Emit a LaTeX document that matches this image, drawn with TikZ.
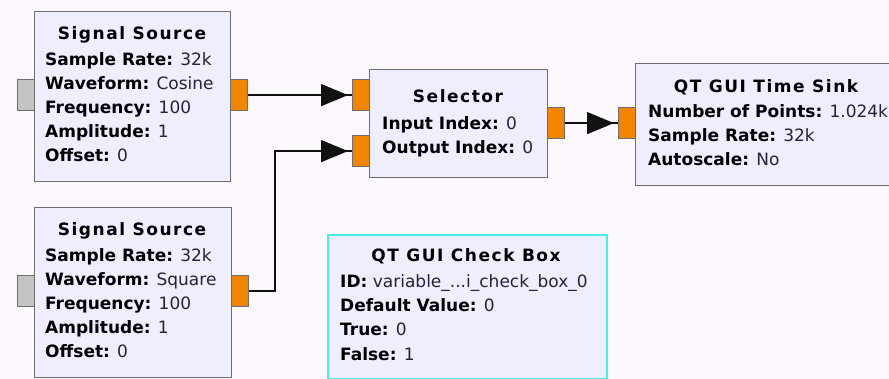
\documentclass[tikz,border=0pt]{standalone}
\usepackage{fontspec}
\setmainfont{DejaVu Sans}
\newfontfamily\titlefont[LetterSpace=9]{DejaVu Sans}
\usetikzlibrary{arrows.meta}
\definecolor{bgc}{HTML}{FDF8FD}
\definecolor{blockfill}{HTML}{EFEEFF}
\definecolor{blockedge}{HTML}{6E6E6E}
\definecolor{portorange}{HTML}{F28500}
\definecolor{portgray}{HTML}{C4C4C4}
\definecolor{selcyan}{HTML}{44EFEF}
\definecolor{valtext}{HTML}{23233A}
\definecolor{wire}{HTML}{111111}
\tikzset{
  block/.style={draw=blockedge, line width=1.4pt, fill=blockfill, anchor=north west, inner sep=0pt},
  portout/.style={draw=blockedge, line width=1.2pt, fill=portorange, anchor=north west, inner sep=0pt, minimum width=17pt, minimum height=31pt},
  portin/.style={draw=blockedge, line width=1.2pt, fill=portgray, anchor=north west, inner sep=0pt, minimum width=17pt, minimum height=31pt},
  title/.style={anchor=base, inner sep=0pt, font=\fontsize{17}{20}\titlefont\bfseries},
  param/.style={anchor=base west, inner sep=0pt, font=\fontsize{17}{20}\selectfont},
  wireline/.style={draw=wire, line width=1.5pt},
  wirearrow/.style={wireline, -{Triangle[length=27pt,width=22pt]}},
}
\newcommand{\kv}[2]{\textbf{#1:} \textcolor{valtext}{#2}}
\begin{document}
\begin{tikzpicture}[x=1pt,y=-1pt]
\fill[bgc] (0,0) rectangle (889,379);
\useasboundingbox (0,0) rectangle (889,379);

% first signal source
\node[block, minimum width=196pt, minimum height=170pt] (src1) at (34,11) {};
\node[portin] (src1in) at (17,79) {};
\node[portout] (src1out) at (230,79) {};
\node[title] (src1t) at (132,40) {Signal Source};
\node[param] (src1a) at (45,66) {\kv{Sample Rate}{32k}};
\node[param] (src1b) at (45,90) {\kv{Waveform}{Cosine}};
\node[param] (src1c) at (45,114) {\kv{Frequency}{100}};
\node[param] (src1d) at (45,138) {\kv{Amplitude}{1}};
\node[param] (src1e) at (45,162) {\kv{Offset}{0}};

% second signal source
\node[block, minimum width=197pt, minimum height=170pt] (src2) at (34,207) {};
\node[portin] (src2in) at (17,275) {};
\node[portout] (src2out) at (231,275) {};
\node[title] (src2t) at (132,236) {Signal Source};
\node[param] (src2a) at (45,262) {\kv{Sample Rate}{32k}};
\node[param] (src2b) at (45,286) {\kv{Waveform}{Square}};
\node[param] (src2c) at (45,310) {\kv{Frequency}{100}};
\node[param] (src2d) at (45,334) {\kv{Amplitude}{1}};
\node[param] (src2e) at (45,358) {\kv{Offset}{0}};

% selector
\node[block, minimum width=178pt, minimum height=108pt] (sel) at (369,69) {};
\node[portout] (selin1) at (352,79) {};
\node[portout] (selin2) at (352,135) {};
\node[portout] (selout) at (547,107) {};
\node[title] (selt) at (458,103) {Selector};
\node[param] (sela) at (382,130) {\kv{Input Index}{0}};
\node[param] (selb) at (382,154) {\kv{Output Index}{0}};

% time sink
\node[block, minimum width=270pt, minimum height=122pt] (sink) at (635,63) {};
\node[portout] (sinkin) at (618,107) {};
\node[title] (sinkt) at (766,93) {QT GUI Time Sink};
\node[param] (sinka) at (648,118) {\kv{Number of Points}{1.024k}};
\node[param] (sinkb) at (648,142) {\kv{Sample Rate}{32k}};
\node[param] (sinkc) at (648,166) {\kv{Autoscale}{No}};

% check box variable
\node[block, draw=selcyan, line width=2pt, minimum width=279pt, minimum height=144pt] (chk) at (327,234) {};
\node[title] (chkt) at (466,262) {QT GUI Check Box};
\node[param] (chka) at (340,288) {\kv{ID}{variable\_...i\_check\_box\_0}};
\node[param] (chkb) at (340,312) {\kv{Default Value}{0}};
\node[param] (chkc) at (340,336) {\kv{True}{0}};
\node[param] (chkd) at (340,360) {\kv{False}{1}};

% connections
\coordinate (bend) at (275,0);
\draw[wireline] (src1out.east) -- (selin1.west);
\draw[wirearrow] (src1out.east) -- ([xshift=-4pt]selin1.west);
\draw[wireline] (src2out.east) -| (bend |- selin2.west) -- (selin2.west);
\draw[wirearrow] (bend |- selin2.west) -- ([xshift=-4pt]selin2.west);
\draw[wireline] (selout.east) -- (sinkin.west);
\draw[wirearrow] (selout.east) -- ([xshift=-4pt]sinkin.west);
\end{tikzpicture}
\end{document}
